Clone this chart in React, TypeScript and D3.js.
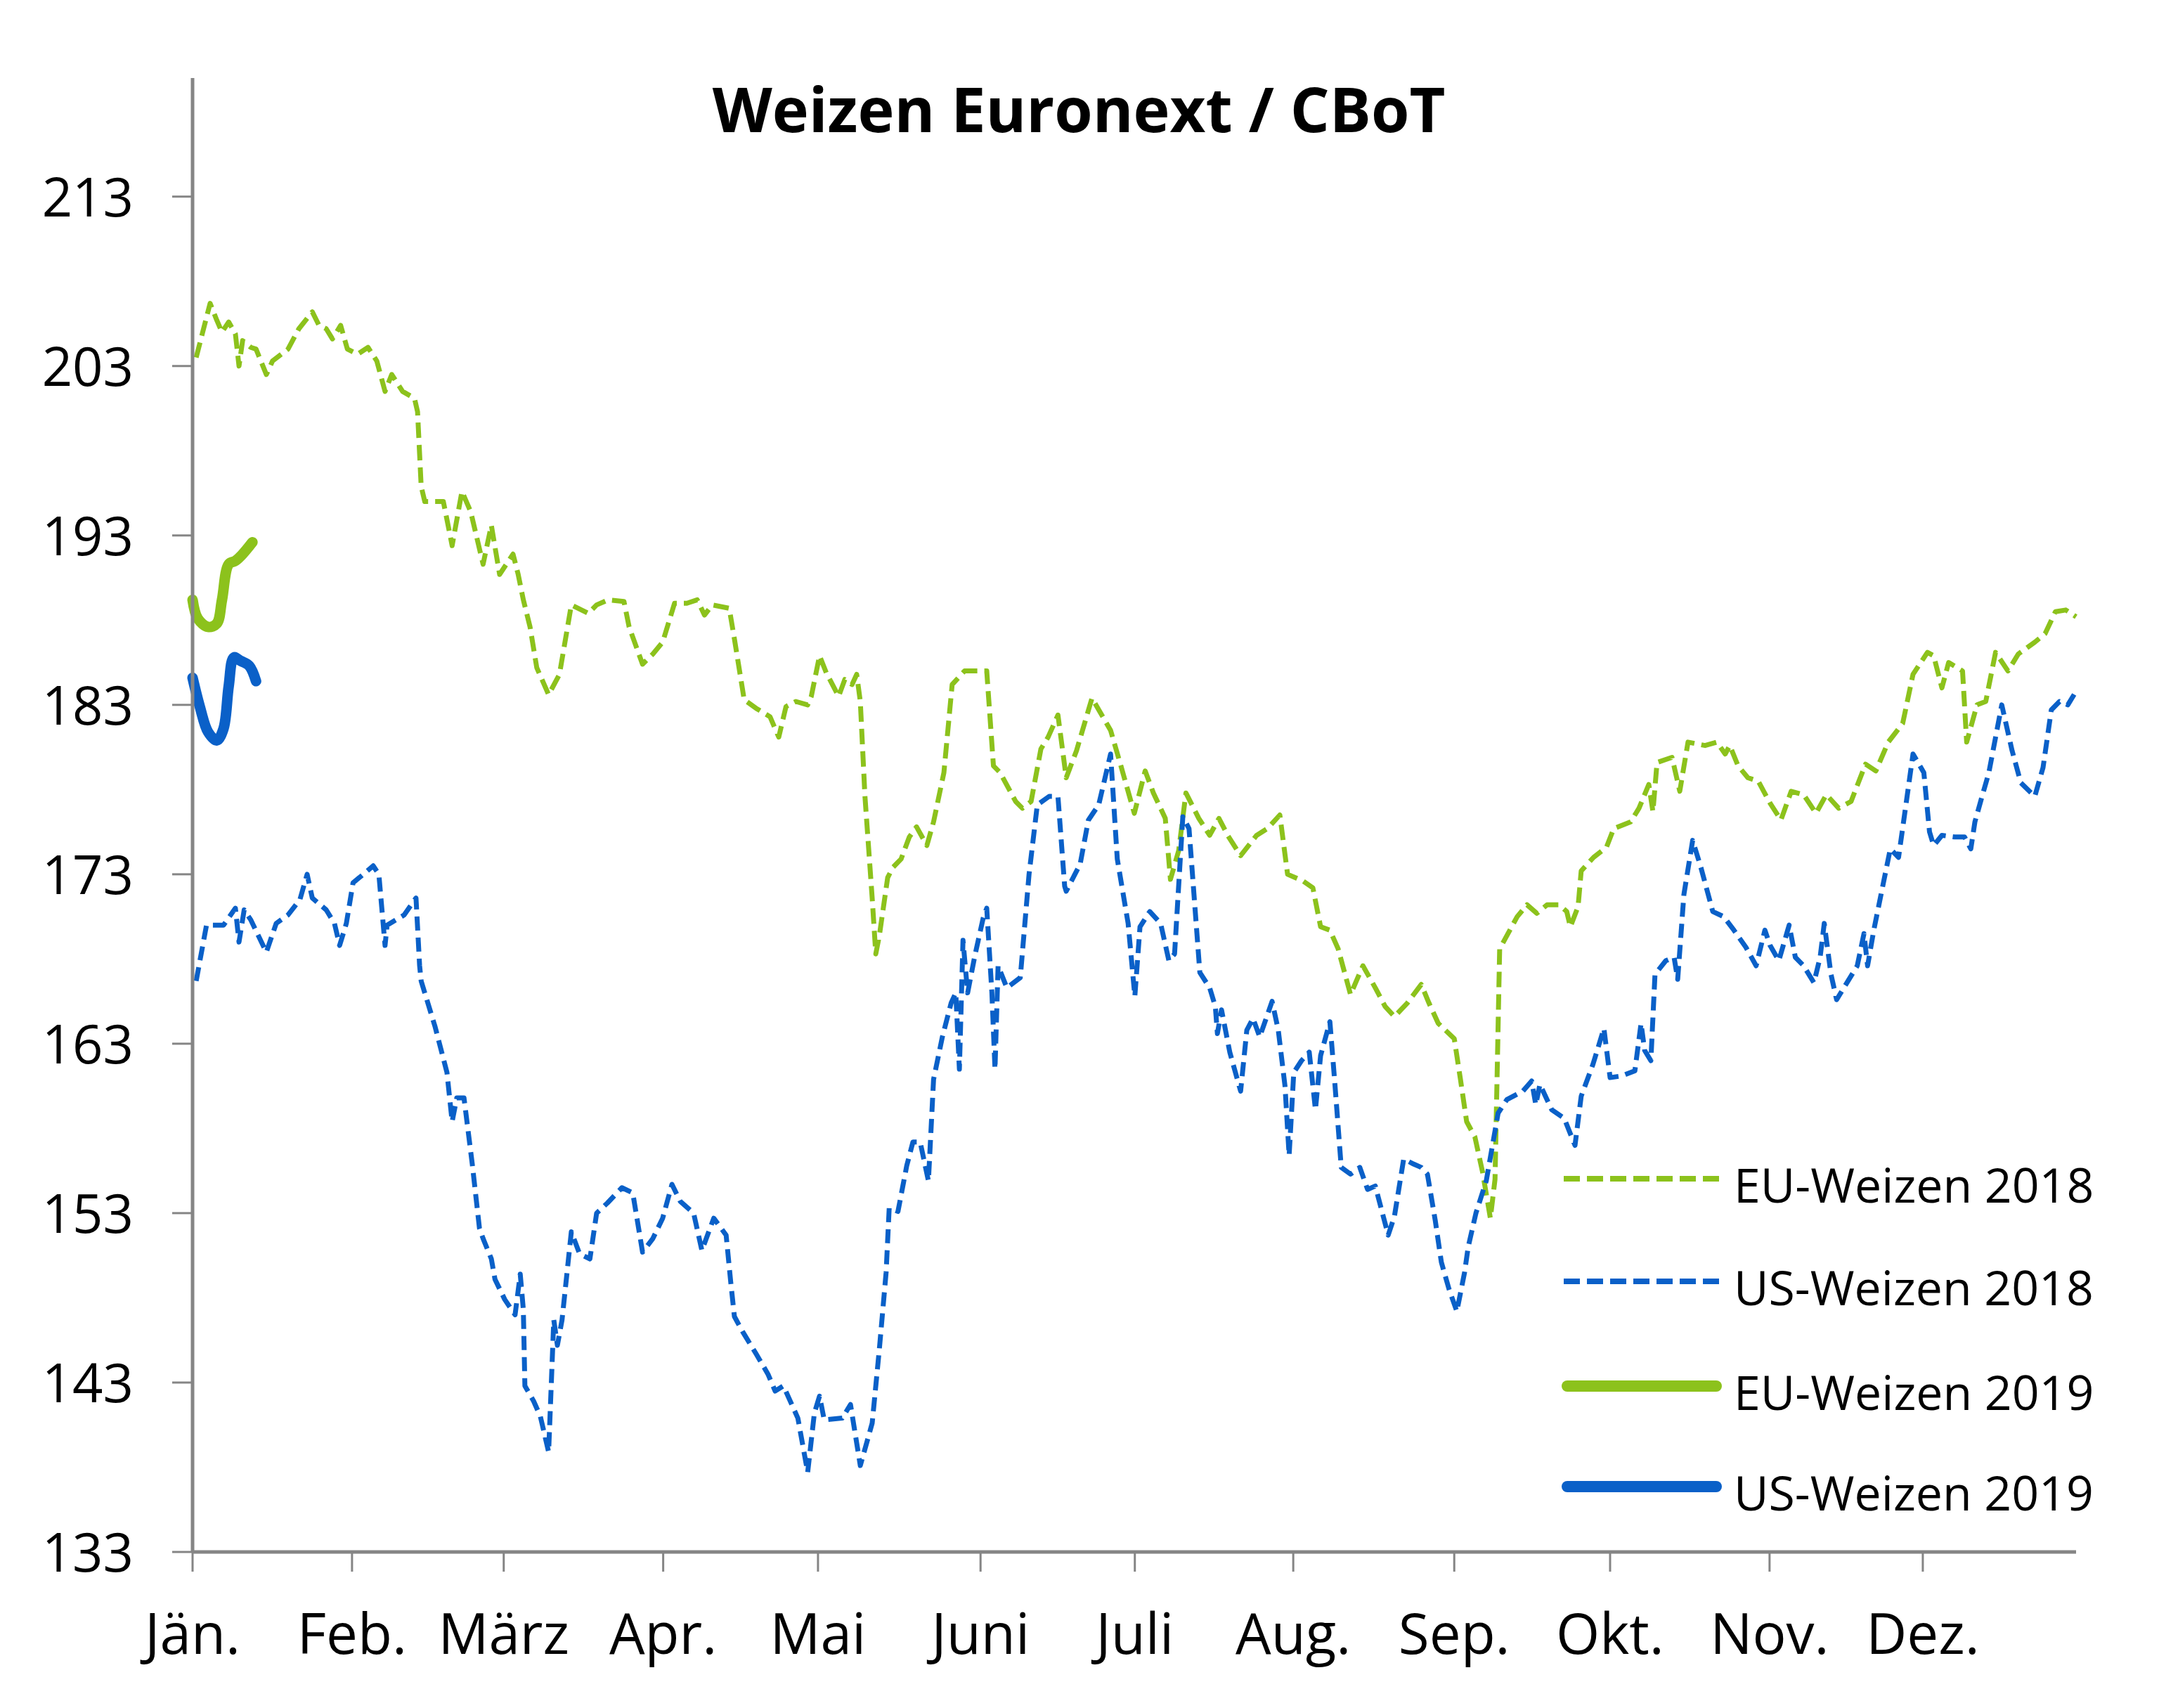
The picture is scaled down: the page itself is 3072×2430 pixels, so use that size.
import React from "react";
import * as d3 from "d3";

// ---------- DATA ----------
const title = "Weizen Euronext / CBoT";
const monthLabels = ["Jän.", "Feb.", "März", "Apr.", "Mai", "Juni", "Juli", "Aug.", "Sep.", "Okt.", "Nov.", "Dez."];
// position of each month start on the x (day-index) axis
const monthTickDays = [0, 30.9, 60.3, 91.2, 121.2, 152.7, 182.6, 213.3, 244.5, 274.7, 305.6, 335.3];
const xMin = 0;
const xMax = 365;
const yTicks = [133, 143, 153, 163, 173, 183, 193, 203, 213];
const yMin = 133;
const yMax = 220;

// [day index (0 = 1 Jan), value]
const euWeizen2018: [number, number][] = [
  [0.7,203.5],[3.4,206.7],[4.7,205.7],[5.7,205.0],[7,205.6],[8.3,204.9],[9,203.0],[9.7,204.5],[11.3,204.1],[12.3,204.0],
  [14.3,202.5],[15.5,203.3],[18.5,204.0],[20.6,205.2],[23.2,206.2],[24.5,205.4],[25.9,205.2],[27.1,204.6],[28.7,205.4],[30,204.0],
  [32,203.7],[34,204.1],[35.7,203.3],[37.3,201.5],[38.6,202.5],[40.7,201.5],[43,201.1],[43.6,200.3],[44.3,195.9],[45,195.0],
  [48.6,195.0],[50.3,192.4],[52.2,195.6],[53.9,194.4],[56.3,191.3],[57.9,193.6],[59.5,190.7],[62.1,191.9],[63.1,190.7],[64.1,189.2],
  [65.4,187.6],[66.7,185.2],[69,183.6],[71.1,184.8],[73.4,188.9],[76.7,188.4],[78.3,188.9],[80.6,189.2],[83.6,189.1],[84.6,187.6],
  [87.2,185.4],[89.2,186.0],[91.1,186.7],[93.4,189.0],[95.8,189.0],[97.8,189.2],[99.2,188.3],[100.7,188.9],[104,188.7],[105,186.9],
  [106.9,183.3],[109.2,182.8],[111.9,182.3],[113.6,181.1],[115,182.9],[116.9,183.2],[119.2,183.0],[119.9,183.5],[121.5,185.9],[122.8,184.9],
  [125.2,183.5],[126.4,184.5],[127.8,184.2],[128.7,184.8],[129.4,183.2],[130.3,177.6],[131.7,171.6],[132.4,168.3],[133.1,169.4],[134.7,172.8],
  [135.7,173.4],[137.3,173.9],[138.9,175.2],[140.3,175.8],[142.3,174.7],[143.6,176.1],[145.6,179.0],[147.2,184.2],[149.6,185.0],[153.9,185.0],
  [155.2,179.4],[156.5,179.0],[159.5,177.3],[160.8,176.9],[162.5,177.3],[164.4,180.4],[165.8,181.1],[167.7,182.4],[169.3,178.7],[171.3,180.3],
  [174.3,183.4],[177.9,181.5],[179.9,179.4],[182.5,176.6],[184.6,179.1],[186.2,177.8],[188.5,176.3],[189.5,172.7],[191.1,174.4],[192.5,177.8],
  [195,176.3],[197.1,175.3],[198.9,176.3],[200.6,175.3],[203.1,174.1],[206.2,175.3],[208.3,175.7],[210.7,176.5],[212.2,173.0],[215.2,172.6],
  [217.1,172.2],[218.6,169.9],[220.4,169.7],[222,168.6],[224.4,165.9],[226.8,167.6],[229.2,166.3],[231.1,165.2],[232.9,164.6],[235.4,165.4],
  [238.1,166.5],[239.6,165.4],[241.4,164.2],[244.5,163.3],[245.7,160.9],[246.9,158.4],[248.5,157.5],[250,155.4],[251.5,152.7],[252.4,155.0],
  [253.3,168.6],[256.7,170.5],[258.6,171.2],[260.5,170.7],[262.5,171.2],[264.8,171.2],[266.3,170.8],[267,169.9],[268.5,171.1],[269.1,173.2],
  [271.5,174.0],[274,174.6],[275.4,175.7],[278.7,176.1],[280.3,176.9],[282.2,178.3],[283,176.7],[283.8,179.6],[286.7,179.9],[288.2,177.9],
  [289.8,180.8],[293.1,180.6],[295.4,180.8],[297,180.1],[297.9,180.6],[299.5,179.4],[301.4,178.7],[303.4,178.5],[305.7,177.2],[307.8,176.2],
  [309.8,177.9],[312.2,177.7],[314.6,176.6],[316.6,177.7],[319,176.9],[321.4,177.3],[324.2,179.5],[326.2,179.1],[328.6,180.8],[331.4,181.9],
  [333.4,184.8],[336.2,186.1],[337.4,185.9],[339,184.0],[340.3,185.5],[343,185.0],[343.8,180.8],[345.8,183.0],[347.5,183.2],[349.4,186.1],
  [351.8,185.0],[353.8,186.0],[357,186.7],[359,187.2],[361,188.5],[363,188.6],[365,188.2]
];

const usWeizen2018: [number, number][] = [
  [0.7,166.7],[2.7,170.0],[6,170.0],[8.3,171.0],[9,169.0],[10,170.9],[11.3,170.3],[14.3,168.4],[16.2,170.1],[18.5,170.6],
  [20.8,171.5],[22.2,173.0],[23.2,171.6],[25.9,170.9],[27.5,170.1],[28.5,168.8],[29.8,170.1],[31.1,172.5],[33.1,173.0],[35,173.5],
  [36.1,173.0],[37.3,168.8],[37.7,170.0],[41,170.6],[43.3,171.6],[44,167.6],[44.3,166.7],[47,164.0],[49.3,161.3],[50.3,158.4],
  [51.2,159.8],[52.6,159.8],[54.2,155.9],[55.6,152.1],[56.3,151.5],[57.9,150.3],[58.6,149.1],[60.5,147.9],[62.5,147.0],[63.5,149.4],
  [64.1,147.3],[64.4,142.8],[66.1,141.9],[67.4,141.0],[69,138.9],[70,146.7],[70.7,145.2],[71.6,146.7],[73.4,151.9],[75,150.6],
  [77,150.3],[78.3,153.0],[80.4,153.6],[83.2,154.5],[85.3,154.2],[87.2,150.7],[89.2,151.5],[91.1,152.7],[92.9,154.7],[94.5,153.7],
  [97.1,153.0],[98.7,150.8],[101,152.7],[103.4,151.7],[104.3,148.9],[105,146.9],[106.6,146.0],[109.2,144.7],[111.5,143.5],[112.9,142.5],
  [114.5,142.8],[117.3,140.9],[119.2,137.7],[120.5,141.2],[121.5,142.2],[122.4,140.8],[125.9,140.9],[127.5,141.7],[129.4,138.1],[131.7,140.6],
  [133.1,145.0],[134.4,149.5],[135,153.3],[136.7,153.1],[138.4,155.8],[139.6,157.2],[141,157.2],[142.6,154.9],[143.6,160.9],[145.3,163.4],
  [147,165.4],[147.9,166.0],[148.6,161.5],[149.3,169.1],[150.2,166.0],[151.6,168.2],[153.2,170.4],[153.9,171.0],[154.9,166.0],[155.5,161.5],
  [156.1,167.6],[157.8,166.3],[160.4,166.9],[162.1,173.0],[163.7,177.1],[166,177.6],[167.7,177.6],[169,172.3],[169.3,172.0],[172,173.6],
  [173.6,176.2],[175.6,177.1],[177.9,180.1],[179.2,173.9],[181.3,170.1],[182.6,165.8],[183.6,169.9],[185.5,170.8],[187.6,170.1],[189.2,167.9],
  [190.3,168.3],[191.9,176.4],[193.1,175.7],[195.2,167.2],[197.1,166.3],[198.2,165.2],[198.6,163.6],[199.4,165.0],[201,162.5],[203.1,160.2],
  [204.3,163.8],[205.5,164.5],[206.8,163.4],[209.2,165.5],[210.4,163.8],[211.7,160.5],[212.5,156.4],[213.4,161.3],[214.9,162.0],[216.4,162.5],
  [217.6,159.1],[218.6,162.3],[220.4,164.3],[221.3,160.9],[222.6,155.7],[224.4,155.3],[226.2,155.7],[227.7,154.4],[229.2,154.6],[231.7,151.7],
  [232.9,152.8],[234.7,156.2],[236.6,155.9],[238.1,155.7],[239.3,155.3],[240.8,152.6],[242,150.1],[243.5,148.5],[245,147.2],[246.5,149.5],
  [247.2,151.0],[248.7,153.0],[250.7,154.9],[253,158.9],[254.7,159.7],[257.8,160.2],[259.5,160.8],[260.3,159.4],[261.1,160.6],[263.4,159.1],
  [265.8,158.6],[267.9,157.0],[269.1,159.9],[271.4,161.8],[273.5,163.9],[274.7,161.0],[277,161.1],[279.5,161.4],[280.7,164.2],[281.4,162.6],
  [282.6,162.0],[283.4,167.1],[285.5,167.9],[287.1,168.1],[287.8,166.8],[289,171.8],[290.7,175.0],[292.3,173.4],[294.6,170.8],[296.7,170.5],
  [298.7,169.7],[301,168.7],[303,167.6],[304.7,169.7],[305.7,168.8],[307.4,167.9],[309.4,170.0],[310.6,168.1],[312.2,167.6],[314.2,166.6],
  [315.4,168.1],[316.2,170.1],[317.5,167.1],[318.6,165.6],[320.6,166.6],[322.6,167.6],[323.9,169.5],[324.6,167.6],[325.8,169.7],[327.4,172.1],
  [329,174.5],[330.6,174.0],[331.8,176.6],[333.4,180.1],[335.5,179.0],[336.6,175.5],[337.4,174.7],[339,175.3],[341.5,175.2],[343.4,175.2],
  [344.6,174.5],[345.4,176.1],[346.6,177.4],[348.1,179.0],[350.6,183.0],[352.6,180.3],[354.3,178.4],[357,177.6],[358.6,179.3],[360.2,182.7],
  [361.8,183.2],[363.4,183.0],[365,183.8]
];

const euWeizen2019: [number, number][] = [
  [0,189.2],[1,188.1],[3,187.6],[4.7,187.8],[5.7,189.2],[7,191.3],[8.3,191.5],[9.7,191.9],[11.6,192.6]
];

const usWeizen2019: [number, number][] = [
  [0,184.6],[1.4,182.9],[3,181.4],[4.7,180.9],[6,181.6],[7,184.1],[8,185.8],[9.3,185.6],[11,185.3],[12.3,184.4]
];

const seriesNames = ["EU-Weizen 2018", "US-Weizen 2018", "EU-Weizen 2019", "US-Weizen 2019"];

// ---------- STYLE ----------
const GREEN = "#8cc21c";
const BLUE = "#0a60c8";
const AXIS = "#858585";
const FONT = "'Open Sans', 'Noto Sans', sans-serif";

const W = 3072;
const H = 2430;
const plot = { left: 274, right: 2954, top: 111, bottom: 2208 };

export default function App() {
  const x = d3.scaleLinear().domain([xMin, xMax]).range([plot.left, plot.right]);
  const y = d3.scaleLinear().domain([yMin, yMax]).range([plot.bottom, plot.top]);

  const line = d3
    .line<[number, number]>()
    .x((p) => x(p[0]))
    .y((p) => y(p[1]));
  const smooth = d3
    .line<[number, number]>()
    .x((p) => x(p[0]))
    .y((p) => y(p[1]))
    .curve(d3.curveCatmullRom.alpha(0.5));

  const series = [
    { name: seriesNames[0], data: euWeizen2018, color: GREEN, width: 7, dash: "22 10", smooth: false },
    { name: seriesNames[1], data: usWeizen2018, color: BLUE, width: 7, dash: "20 10", smooth: false },
    { name: seriesNames[2], data: euWeizen2019, color: GREEN, width: 15, dash: undefined, smooth: true },
    { name: seriesNames[3], data: usWeizen2019, color: BLUE, width: 15, dash: undefined, smooth: true },
  ];

  const legendY = [1677, 1823, 1972, 2115];

  return (
    <svg
      width={W}
      height={H}
      style={{ position: "absolute", left: 0, top: 0, background: "#fff" }}
      fontFamily={FONT}
    >
      <rect x={0} y={0} width={W} height={H} fill="#fff" />
      <text x={1535} y={188} textAnchor="middle" fontSize={88} fontWeight={700} fill="#000">
        {title}
      </text>

      {/* series */}
      {series.map((s, i) => (
        <path
          key={i}
          d={(s.smooth ? smooth : line)(s.data) || ""}
          fill="none"
          stroke={s.color}
          strokeWidth={s.width}
          strokeDasharray={s.dash}
          strokeLinejoin="round"
          strokeLinecap={s.dash ? "butt" : "round"}
        />
      ))}

      {/* y axis */}
      <line x1={plot.left} x2={plot.left} y1={plot.top} y2={plot.bottom} stroke={AXIS} strokeWidth={5} />
      {yTicks.map((t) => (
        <g key={t}>
          <line x1={plot.left - 29} x2={plot.left} y1={y(t)} y2={y(t)} stroke={AXIS} strokeWidth={3} />
          <text x={190} y={y(t) + 28} textAnchor="end" fontSize={76} fill="#000">
            {t}
          </text>
        </g>
      ))}

      {/* x axis */}
      <line x1={plot.left} x2={plot.right} y1={plot.bottom} y2={plot.bottom} stroke={AXIS} strokeWidth={5} />
      {monthTickDays.map((m, i) => (
        <g key={i}>
          <line x1={x(m)} x2={x(m)} y1={plot.bottom} y2={plot.bottom + 28} stroke={AXIS} strokeWidth={3} />
          <text x={x(m)} y={2353} textAnchor="middle" fontSize={80} fill="#000">
            {monthLabels[i]}
          </text>
        </g>
      ))}

      {/* legend */}
      {series.map((s, i) => (
        <g key={"l" + i}>
          <line
            x1={s.dash ? 2225 : 2230}
            x2={s.dash ? 2447 : 2442}
            y1={legendY[i]}
            y2={legendY[i]}
            stroke={s.color}
            strokeWidth={s.dash ? 8 : 16}
            strokeDasharray={s.dash ? "23 10" : undefined}
            strokeLinecap={s.dash ? "butt" : "round"}
          />
          <text x={2467} y={legendY[i] + 34} fontSize={68} fill="#000">
            {s.name}
          </text>
        </g>
      ))}
    </svg>
  );
}
